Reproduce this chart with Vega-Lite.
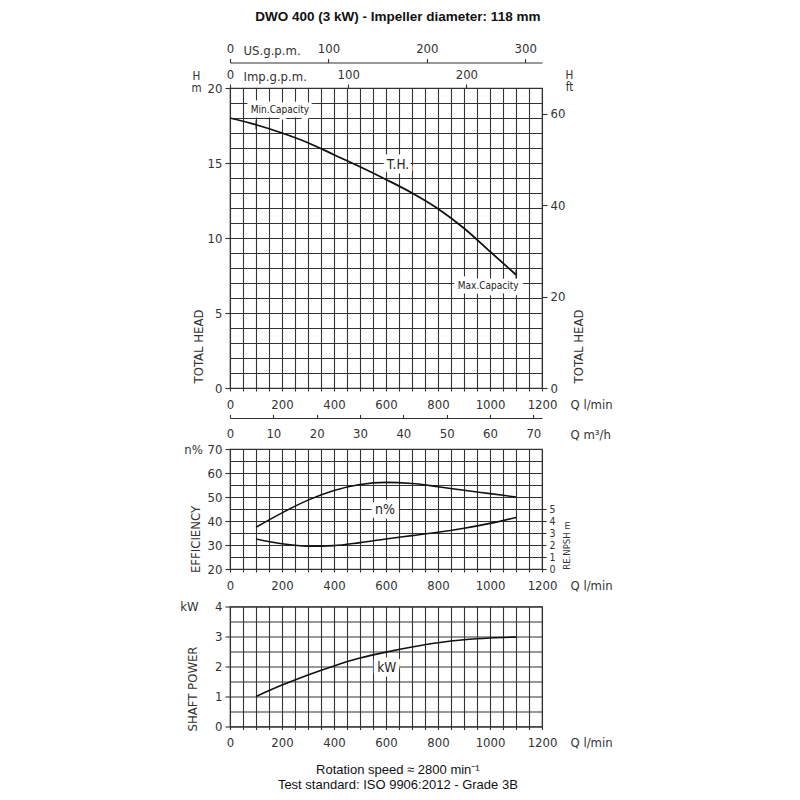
{
  "$schema": "https://vega.github.io/schema/vega-lite/v6.json",
  "description": "DWO 400 pump performance curves: total head, efficiency, NPSH and shaft power against flow.",
  "padding": {"left": 179, "top": 10, "right": 5, "bottom": 5},
  "title": {
    "text": "DWO 400 (3 kW) - Impeller diameter: 118 mm",
    "font": "Liberation Sans",
    "fontSize": 13.5,
    "fontWeight": "bold",
    "color": "#111",
    "anchor": "middle",
    "offset": 18
  },
  "datasets": {
    "head": [
      {"q": 0, "h": 18.0},
      {"q": 100, "h": 17.55},
      {"q": 200, "h": 17.0},
      {"q": 300, "h": 16.35},
      {"q": 400, "h": 15.55},
      {"q": 500, "h": 14.75},
      {"q": 600, "h": 13.9},
      {"q": 700, "h": 13.0},
      {"q": 800, "h": 11.95},
      {"q": 900, "h": 10.65},
      {"q": 1000, "h": 9.1},
      {"q": 1100, "h": 7.55}
    ],
    "limits": [
      {"q": 100, "h": 17.55, "limit": "Min.Capacity"},
      {"q": 1100, "h": 7.6, "limit": "Max.Capacity"}
    ],
    "eff": [
      {"q": 100, "eff": 37.4},
      {"q": 200, "eff": 43.4},
      {"q": 300, "eff": 48.7},
      {"q": 400, "eff": 52.7},
      {"q": 500, "eff": 55.2},
      {"q": 600, "eff": 56.1},
      {"q": 700, "eff": 55.6},
      {"q": 800, "eff": 54.3},
      {"q": 900, "eff": 52.8},
      {"q": 1000, "eff": 51.4},
      {"q": 1100, "eff": 50.0}
    ],
    "npsh": [
      {"q": 100, "npsh": 2.5},
      {"q": 200, "npsh": 2.1},
      {"q": 300, "npsh": 1.9},
      {"q": 400, "npsh": 1.95},
      {"q": 500, "npsh": 2.2},
      {"q": 600, "npsh": 2.5},
      {"q": 700, "npsh": 2.78},
      {"q": 800, "npsh": 3.06},
      {"q": 900, "npsh": 3.4},
      {"q": 1000, "npsh": 3.8},
      {"q": 1100, "npsh": 4.3}
    ],
    "power": [
      {"q": 100, "kw": 1.0},
      {"q": 200, "kw": 1.38},
      {"q": 300, "kw": 1.72},
      {"q": 400, "kw": 2.02},
      {"q": 500, "kw": 2.28},
      {"q": 600, "kw": 2.48},
      {"q": 700, "kw": 2.65},
      {"q": 800, "kw": 2.79},
      {"q": 900, "kw": 2.89},
      {"q": 1000, "kw": 2.95},
      {"q": 1100, "kw": 2.98}
    ],
    "notes": [
      {"panel": "head", "q": 192, "v": 18.55, "label": "Min.Capacity", "kind": "small"},
      {"panel": "head", "q": 646, "v": 14.9, "label": "T.H.", "kind": "big"},
      {"panel": "head", "q": 993, "v": 6.8, "label": "Max.Capacity", "kind": "small"},
      {"panel": "eff", "q": 596, "v": 44.7, "label": "n%", "kind": "big"},
      {"panel": "power", "q": 603, "v": 1.95, "label": "kW", "kind": "big"}
    ]
  },
  "config": {
    "view": {"stroke": "#333", "strokeWidth": 1.2},
    "axis": {
      "labelFont": "DejaVu Sans Condensed, sans-serif",
      "labelFontSize": 13,
      "labelColor": "#333",
      "titleFont": "DejaVu Sans Condensed, sans-serif",
      "titleFontSize": 13,
      "titleFontWeight": "normal",
      "titleColor": "#333",
      "gridColor": "#333",
      "gridWidth": 1.1,
      "gridOpacity": 1,
      "tickColor": "#333",
      "tickWidth": 1.1,
      "domainColor": "#333",
      "domainWidth": 1.2,
      "labelFlush": false,
      "labelOverlap": false,
      "labelBound": false
    },
    "text": {"font": "DejaVu Sans Condensed, sans-serif"}
  },
  "spacing": 0,
  "vconcat": [
    {
      "width": 312,
      "height": 300,
      "resolve": {"axis": {"x": "independent", "y": "independent"}},
      "layer": [
        {
          "data": {"name": "head"},
          "mark": {"type": "line", "color": "#111", "strokeWidth": 1.8, "interpolate": "monotone"},
          "encoding": {
            "x": {
              "field": "q", "type": "quantitative",
              "scale": {"domain": [0, 1200], "nice": false},
              "axis": {
                "orient": "bottom",
                "values": [0, 50, 100, 150, 200, 250, 300, 350, 400, 450, 500, 550, 600, 650, 700, 750, 800, 850, 900, 950, 1000, 1050, 1100, 1150, 1200],
                "format": "d", "grid": true, "domain": false,
                "labelExpr": "datum.value % 200 === 0 ? datum.label : ''",
                "tickSize": 3, "labelPadding": 7,
                "title": "Q  l/min", "titleX": 340, "titleY": 16,
                "titleAlign": "left", "titleBaseline": "middle", "titleAngle": 0
              }
            },
            "y": {
              "field": "h", "type": "quantitative",
              "scale": {"domain": [0, 20], "nice": false},
              "axis": {
                "orient": "left",
                "values": [0, 1, 2, 3, 4, 5, 6, 7, 8, 9, 10, 11, 12, 13, 14, 15, 16, 17, 18, 19, 20],
                "grid": true, "domain": false,
                "labelExpr": "datum.value % 5 === 0 ? datum.label : ''",
                "tickOpacity": {"condition": {"test": "datum.value % 5 === 0", "value": 1}, "value": 0},
                "tickSize": 5, "labelPadding": 3,
                "title": ["H", "m"], "titleFontSize": 11.5, "titleAngle": 0, "titleX": -34, "titleY": -9,
                "titleAlign": "center", "titleBaseline": "alphabetic", "titleLineHeight": 12.5
              }
            }
          }
        },
        {
          "data": {"name": "notes"},
          "transform": [{"filter": "datum.panel === 'head'"}],
          "mark": {"type": "text", "stroke": "white", "strokeWidth": 9, "strokeJoin": "round", "color": "white"},
          "encoding": {
            "x": {
              "field": "q", "type": "quantitative",
              "scale": {"domain": [0, 1200], "nice": false},
              "axis": {
                "orient": "top",
                "values": [0, 454.609, 909.218],
                "labelExpr": "format(datum.value / 4.54609, '.0f')",
                "grid": false, "domain": false, "tickSize": 4, "labelPadding": 3,
                "title": "Imp.g.p.m.", "titleX": 13, "titleY": -12,
                "titleAlign": "left", "titleBaseline": "middle", "titleAngle": 0
              }
            },
            "y": {
              "field": "v", "type": "quantitative",
              "scale": {"domain": [0, 20], "nice": false},
              "axis": {
                "orient": "right",
                "values": [0, 6.096, 12.192, 18.288],
                "labelExpr": "format(datum.value / 0.3048, '.0f')",
                "grid": false, "domain": false, "tickSize": 5, "labelPadding": 3,
                "title": ["H", "ft"], "titleFontSize": 11.5, "titleAngle": 0, "titleX": 27, "titleY": -10,
                "titleAlign": "center", "titleBaseline": "alphabetic", "titleLineHeight": 12.5
              }
            },
            "text": {"field": "label"},
            "size": {"field": "kind", "type": "nominal", "scale": {"domain": ["small", "big"], "range": [10, 13.5]}, "legend": null}
          }
        },
        {
          "data": {"name": "notes"},
          "transform": [{"filter": "datum.panel === 'head'"}],
          "mark": {"type": "text", "color": "#222"},
          "encoding": {
            "x": {
              "field": "q", "type": "quantitative",
              "scale": {"domain": [0, 1200], "nice": false},
              "axis": {
                "orient": "top", "offset": 25.5,
                "values": [0, 378.541, 757.082, 1135.623],
                "labelExpr": "format(datum.value / 3.78541, '.0f')",
                "grid": false, "domain": true, "tickSize": 4, "labelPadding": 3,
                "title": "US.g.p.m.", "titleX": 13, "titleY": -12.5,
                "titleAlign": "left", "titleBaseline": "middle", "titleAngle": 0
              }
            },
            "y": {
              "field": "v", "type": "quantitative",
              "scale": {"domain": [0, 20], "nice": false},
              "axis": {
                "orient": "left", "values": [], "labels": false, "ticks": false, "domain": false, "grid": false,
                "title": "TOTAL HEAD", "titleAngle": 270, "titleX": -32, "titleY": 258,
                "titleAlign": "center", "titleBaseline": "middle"
              }
            },
            "text": {"field": "label"},
            "size": {"field": "kind", "type": "nominal", "scale": {"domain": ["small", "big"], "range": [10, 13.5]}, "legend": null}
          }
        },
        {
          "data": {"name": "limits"},
          "mark": {"type": "tick", "orient": "vertical", "size": 9, "thickness": 1.3, "color": "#111"},
          "encoding": {
            "x": {
              "field": "q", "type": "quantitative",
              "scale": {"domain": [0, 1200], "nice": false},
              "axis": {
                "orient": "bottom", "offset": 30,
                "values": [0, 166.667, 333.333, 500, 666.667, 833.333, 1000, 1166.667],
                "labelExpr": "format(datum.value * 0.06, '.0f')",
                "grid": false, "domain": true, "tickSize": -3.5, "labelPadding": 12.5,
                "title": "Q  m³/h", "titleX": 340, "titleY": 16,
                "titleAlign": "left", "titleBaseline": "middle", "titleAngle": 0
              }
            },
            "y": {
              "field": "h", "type": "quantitative",
              "scale": {"domain": [0, 20], "nice": false},
              "axis": {
                "orient": "right", "values": [], "labels": false, "ticks": false, "domain": false, "grid": false,
                "title": "TOTAL HEAD", "titleAngle": 270, "titleX": 36, "titleY": 258,
                "titleAlign": "center", "titleBaseline": "middle"
              }
            }
          }
        }
      ]
    },
    {
      "spacing": 6.5,
      "vconcat": [
        {
          "width": 312,
          "height": 120,
          "resolve": {"scale": {"y": "independent"}, "axis": {"x": "independent", "y": "independent"}},
          "layer": [
            {
              "data": {"name": "eff"},
              "mark": {"type": "line", "color": "#111", "strokeWidth": 1.6, "interpolate": "monotone"},
              "encoding": {
                "x": {
                  "field": "q", "type": "quantitative",
                  "scale": {"domain": [0, 1200], "nice": false},
                  "axis": {
                    "orient": "bottom",
                    "values": [0, 50, 100, 150, 200, 250, 300, 350, 400, 450, 500, 550, 600, 650, 700, 750, 800, 850, 900, 950, 1000, 1050, 1100, 1150, 1200],
                    "format": "d", "grid": true, "domain": false,
                    "labelExpr": "datum.value % 200 === 0 ? datum.label : ''",
                    "tickSize": 3, "labelPadding": 7,
                    "title": "Q  l/min", "titleX": 340, "titleY": 16,
                    "titleAlign": "left", "titleBaseline": "middle", "titleAngle": 0
                  }
                },
                "y": {
                  "field": "eff", "type": "quantitative",
                  "scale": {"domain": [20, 70], "nice": false, "zero": false},
                  "axis": {
                    "orient": "left",
                    "values": [20, 25, 30, 35, 40, 45, 50, 55, 60, 65, 70],
                    "grid": true, "domain": false,
                    "labelExpr": "datum.value % 10 === 0 ? datum.label : ''",
                    "tickOpacity": {"condition": {"test": "datum.value % 10 === 0", "value": 1}, "value": 0},
                    "tickSize": 5, "labelPadding": 3,
                    "title": "n%", "titleAngle": 0, "titleX": -37, "titleY": 0,
                    "titleAlign": "center", "titleBaseline": "middle"
                  }
                }
              }
            },
            {
              "data": {"name": "npsh"},
              "mark": {"type": "line", "color": "#111", "strokeWidth": 1.6, "interpolate": "monotone"},
              "encoding": {
                "x": {"field": "q", "type": "quantitative", "scale": {"domain": [0, 1200], "nice": false}, "axis": null},
                "y": {
                  "field": "npsh", "type": "quantitative",
                  "scale": {"domain": [0, 10], "nice": false},
                  "axis": {
                    "orient": "right", "values": [0, 1, 2, 3, 4, 5],
                    "grid": false, "domain": false, "tickSize": 4, "labelPadding": 3, "labelFontSize": 10.5,
                    "title": "RE.NPSH  m", "titleFontSize": 9.5, "titleAngle": 270, "titleX": 24, "titleY": 96,
                    "titleAlign": "center", "titleBaseline": "middle"
                  }
                }
              }
            },
            {
              "data": {"name": "notes"},
              "transform": [{"filter": "datum.panel === 'eff'"}],
              "mark": {"type": "text", "stroke": "white", "strokeWidth": 9, "strokeJoin": "round", "color": "white", "fontSize": 14},
              "encoding": {
                "x": {"field": "q", "type": "quantitative", "scale": {"domain": [0, 1200], "nice": false}, "axis": null},
                "y": {
                  "field": "v", "type": "quantitative",
                  "scale": {"domain": [20, 70], "nice": false, "zero": false},
                  "axis": {
                    "orient": "left", "values": [], "labels": false, "ticks": false, "domain": false, "grid": false,
                    "title": "EFFICIENCY", "titleAngle": 270, "titleX": -35, "titleY": 90,
                    "titleAlign": "center", "titleBaseline": "middle"
                  }
                },
                "text": {"field": "label"}
              }
            },
            {
              "data": {"name": "notes"},
              "transform": [{"filter": "datum.panel === 'eff'"}],
              "mark": {"type": "text", "color": "#222", "fontSize": 14},
              "encoding": {
                "x": {"field": "q", "type": "quantitative", "scale": {"domain": [0, 1200], "nice": false}, "axis": null},
                "y": {"field": "v", "type": "quantitative", "scale": {"domain": [20, 70], "nice": false, "zero": false}, "axis": null},
                "text": {"field": "label"}
              }
            }
          ]
        },
        {
          "width": 312,
          "height": 120,
          "title": {
            "text": ["Rotation speed ≈ 2800 min⁻¹", "Test standard: ISO 9906:2012 - Grade 3B"],
            "orient": "bottom",
            "anchor": "middle",
            "frame": "bounds",
            "font": "Liberation Sans",
            "fontSize": 13,
            "fontWeight": "normal",
            "color": "#111",
            "lineHeight": 15,
            "offset": 14
          },
          "resolve": {"axis": {"x": "independent", "y": "independent"}},
          "layer": [
            {
              "data": {"name": "power"},
              "mark": {"type": "line", "color": "#111", "strokeWidth": 1.6, "interpolate": "monotone"},
              "encoding": {
                "x": {
                  "field": "q", "type": "quantitative",
                  "scale": {"domain": [0, 1200], "nice": false},
                  "axis": {
                    "orient": "bottom",
                    "values": [0, 50, 100, 150, 200, 250, 300, 350, 400, 450, 500, 550, 600, 650, 700, 750, 800, 850, 900, 950, 1000, 1050, 1100, 1150, 1200],
                    "format": "d", "grid": true, "domain": false,
                    "labelExpr": "datum.value % 200 === 0 ? datum.label : ''",
                    "tickSize": 3, "labelPadding": 7,
                    "title": "Q  l/min", "titleX": 340, "titleY": 16,
                    "titleAlign": "left", "titleBaseline": "middle", "titleAngle": 0
                  }
                },
                "y": {
                  "field": "kw", "type": "quantitative",
                  "scale": {"domain": [0, 4], "nice": false},
                  "axis": {
                    "orient": "left",
                    "values": [0, 0.5, 1, 1.5, 2, 2.5, 3, 3.5, 4],
                    "grid": true, "domain": false,
                    "labelExpr": "datum.value % 1 === 0 ? format(datum.value, 'd') : ''",
                    "tickOpacity": {"condition": {"test": "datum.value % 1 === 0", "value": 1}, "value": 0},
                    "tickSize": 5, "labelPadding": 3,
                    "title": "kW", "titleAngle": 0, "titleX": -41, "titleY": 0,
                    "titleAlign": "center", "titleBaseline": "middle"
                  }
                }
              }
            },
            {
              "data": {"name": "notes"},
              "transform": [{"filter": "datum.panel === 'power'"}],
              "mark": {"type": "text", "stroke": "white", "strokeWidth": 9, "strokeJoin": "round", "color": "white", "fontSize": 13.5},
              "encoding": {
                "x": {"field": "q", "type": "quantitative", "scale": {"domain": [0, 1200], "nice": false}, "axis": null},
                "y": {
                  "field": "v", "type": "quantitative",
                  "scale": {"domain": [0, 4], "nice": false},
                  "axis": {
                    "orient": "left", "values": [], "labels": false, "ticks": false, "domain": false, "grid": false,
                    "title": "SHAFT POWER", "titleAngle": 270, "titleX": -38, "titleY": 82,
                    "titleAlign": "center", "titleBaseline": "middle"
                  }
                },
                "text": {"field": "label"}
              }
            },
            {
              "data": {"name": "notes"},
              "transform": [{"filter": "datum.panel === 'power'"}],
              "mark": {"type": "text", "color": "#222", "fontSize": 13.5},
              "encoding": {
                "x": {"field": "q", "type": "quantitative", "scale": {"domain": [0, 1200], "nice": false}, "axis": null},
                "y": {"field": "v", "type": "quantitative", "scale": {"domain": [0, 4], "nice": false}, "axis": null},
                "text": {"field": "label"}
              }
            }
          ]
        }
      ]
    }
  ]
}
